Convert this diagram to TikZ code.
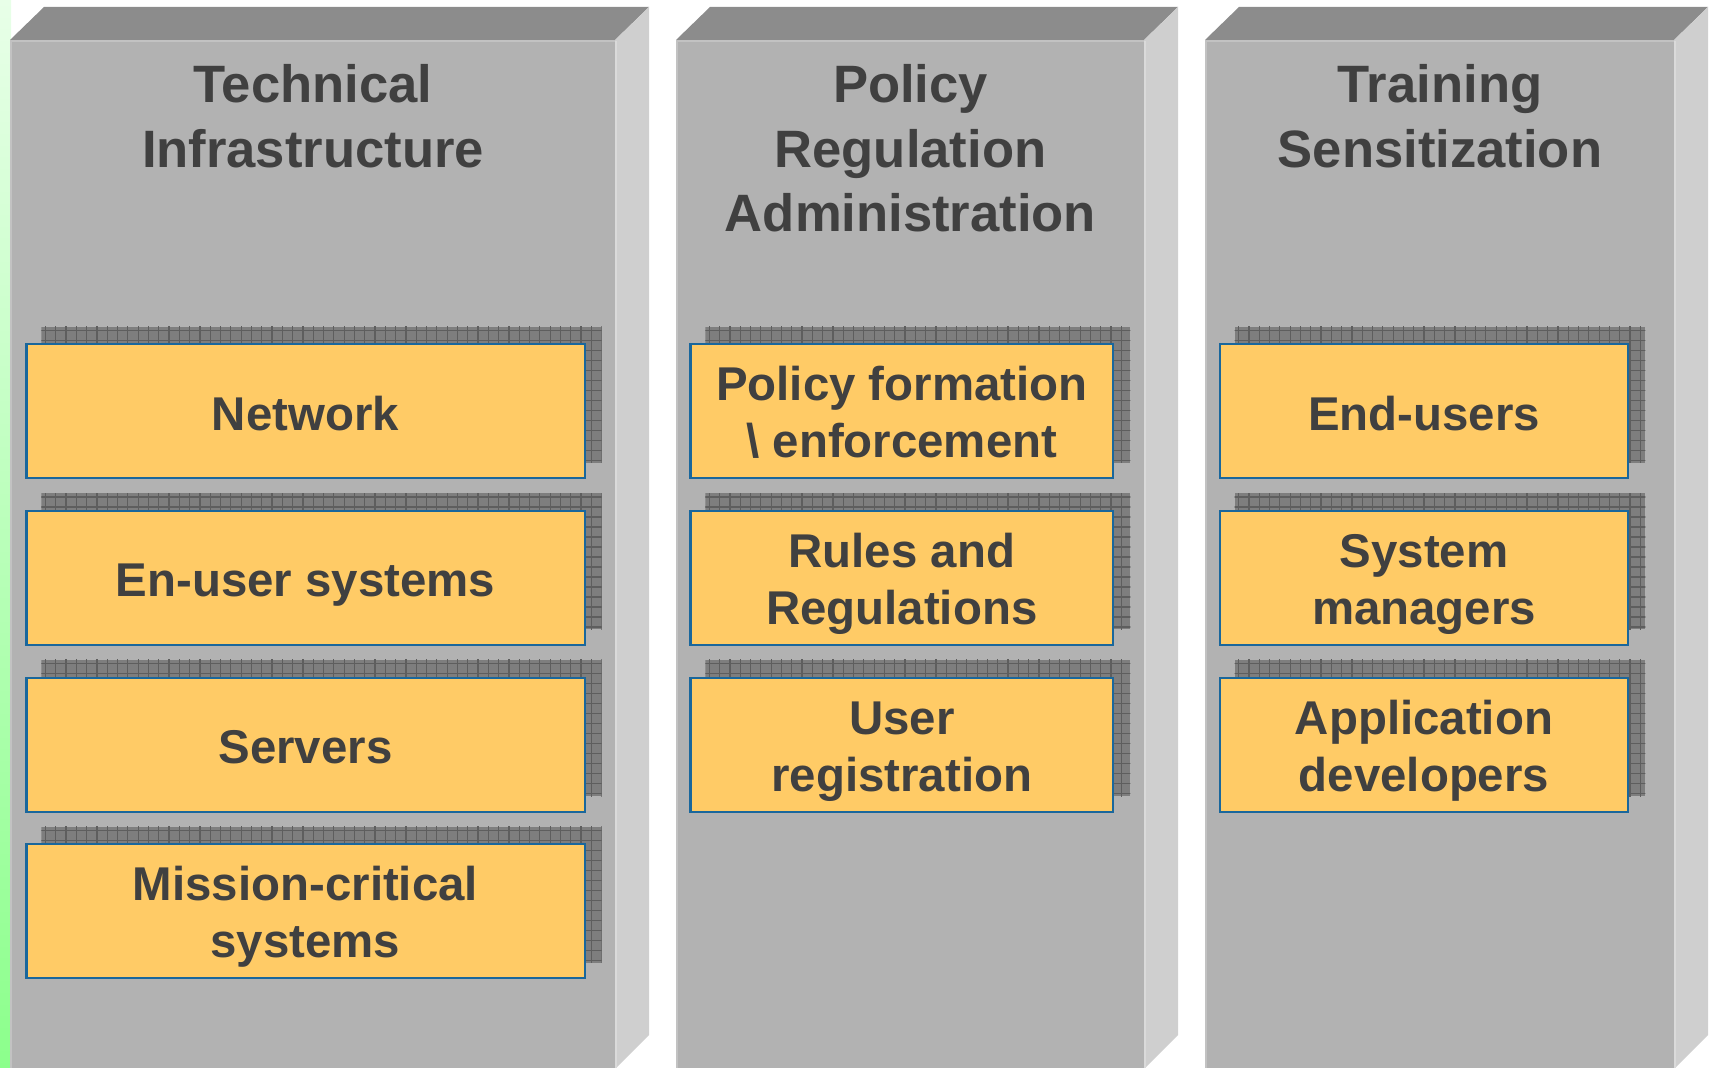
\documentclass[tikz,border=0pt]{standalone}
\usepackage{fontspec}
\setmainfont{Liberation Sans}
\definecolor{topf}{HTML}{8C8C8C}
\definecolor{frontf}{HTML}{B2B2B2}
\definecolor{sidef}{HTML}{CFCFCF}
\definecolor{edgel}{HTML}{C2C2C2}
\definecolor{sidehl}{HTML}{DADADA}
\definecolor{boxfill}{HTML}{FFCB66}
\definecolor{boxline}{HTML}{1A679C}
\definecolor{txt}{HTML}{404040}
\definecolor{shad}{HTML}{7E7E7E}
\definecolor{shadline}{HTML}{5E5E5E}
\definecolor{gtop}{HTML}{E8FFE8}
\definecolor{gbot}{HTML}{8CFF8C}
\newcommand\pillar[2]{%
  \fill[topf] (#1,40) -- (#1+34,7) -- (#2+34,7) -- (#2,40) -- cycle;
  \fill[sidef] (#2,40) -- (#2+34,7) -- (#2+34,1035) -- (#2,1069) -- cycle;
  \fill[frontf] (#1,40) rectangle (#2,1069);
  \draw[edgel, line width=1pt] (#1+1,1069) -- (#1+1,41) -- (#2,41);
  \draw[sidehl, line width=1pt] (#2+1,41) -- (#2+1,1069);
}
% shadow: left, top, right, bottom (outer box coords)
\newcommand\boxshadow[4]{%
  \begin{scope}
    \clip (#1+16,#2-16.7) rectangle (#3+16,#4-16.7);
    \fill[shad] (#1+16,#2-16.7) rectangle (#3+16,#4-16.7);
    \foreach \i in {0,10.3,...,620}{\draw[shadline, line width=0.6pt] (#1+20+\i,#2-20) -- (#1+20+\i,#4);}
    \foreach \j in {0,10,...,150}{\draw[shadline, line width=0.6pt] (#1,#2-13+\j) -- (#3+20,#2-13+\j);}
  \end{scope}
}
\begin{document}
\begin{tikzpicture}[x=0.5pt,y=-0.5pt,
  ybox/.style={draw=boxline, fill=boxfill, line width=1.1pt, inner sep=0pt, outer sep=0pt},
  title/.style={text=txt, font=\fontsize{26.3}{32}\selectfont\bfseries, inner sep=0pt, anchor=base},
  btxt/.style={text=txt, font=\fontsize{23.7}{28}\selectfont\bfseries, inner sep=0pt, anchor=base}]
\useasboundingbox (0,0) rectangle (1710,1068);
\clip (0,0) rectangle (1710,1068);
\shade[top color=gtop, bottom color=gbot] (0,0) rectangle (11,1068);

\pillar{10}{615}
\pillar{676}{1144}
\pillar{1205}{1674}

% titles
\node[title] (t1a) at (313,103) {Technical};
\node[title] (t1b) at (313,167.5) {Infrastructure};
\node[title] (t2a) at (910.5,103) {Policy};
\node[title] (t2b) at (910.5,167.5) {Regulation};
\node[title] (t2c) at (910.5,232) {Administration};
\node[title] (t3a) at (1440,103) {Training};
\node[title] (t3b) at (1440,167.5) {Sensitization};

% column 1 boxes (outer x 25.4..585.7)
\foreach \t in {343.3,510,676.7,843.3}{\boxshadow{25.4}{\t}{585.7}{\t+136.2}}
\node[ybox, minimum width=279.05pt, minimum height=67pt] (net) at (305.55,411.4) {};
\node[ybox, minimum width=279.05pt, minimum height=67pt] (enu) at (305.55,578.1) {};
\node[ybox, minimum width=279.05pt, minimum height=67pt] (srv) at (305.55,744.8) {};
\node[ybox, minimum width=279.05pt, minimum height=67pt] (mis) at (305.55,911.4) {};
\node[btxt] (netT) at (305.5,430.3) {Network};
\node[btxt] (enuT) at (305.5,597) {En-user systems};
\node[btxt] (srvT) at (305.5,763.7) {Servers};
\node[btxt] (misT1) at (305.5,900.8) {Mission-critical};
\node[btxt] (misT2) at (305.5,957.8) {systems};

% column 2 boxes (outer x 689.3..1114.3)
\foreach \t in {343.3,510,676.7}{\boxshadow{689.3}{\t}{1114.3}{\t+136.2}}
\node[ybox, minimum width=211.4pt, minimum height=67pt] (pol) at (901.8,411.4) {};
\node[ybox, minimum width=211.4pt, minimum height=67pt] (rul) at (901.8,578.1) {};
\node[ybox, minimum width=211.4pt, minimum height=67pt] (usr) at (901.8,744.8) {};
\node[btxt] (polT1) at (901.8,400.8) {Policy formation};
\node[btxt] (polT2) at (901.8,457.8) {\textbackslash\ enforcement};
\node[btxt] (rulT1) at (901.8,567.5) {Rules and};
\node[btxt] (rulT2) at (901.8,624.5) {Regulations};
\node[btxt] (usrT1) at (901.8,734.2) {User};
\node[btxt] (usrT2) at (901.8,791.2) {registration};

% column 3 boxes (outer x 1218.6..1629.3)
\foreach \t in {343.3,510,676.7}{\boxshadow{1218.6}{\t}{1629.3}{\t+136.2}}
\node[ybox, minimum width=204.25pt, minimum height=67pt] (end) at (1423.95,411.4) {};
\node[ybox, minimum width=204.25pt, minimum height=67pt] (sys) at (1423.95,578.1) {};
\node[ybox, minimum width=204.25pt, minimum height=67pt] (app) at (1423.95,744.8) {};
\node[btxt] (endT) at (1424,430.3) {End-users};
\node[btxt] (sysT1) at (1424,567.5) {System};
\node[btxt] (sysT2) at (1424,624.5) {managers};
\node[btxt] (appT1) at (1424,734.2) {Application};
\node[btxt] (appT2) at (1424,791.2) {developers};
\end{tikzpicture}
\end{document}
